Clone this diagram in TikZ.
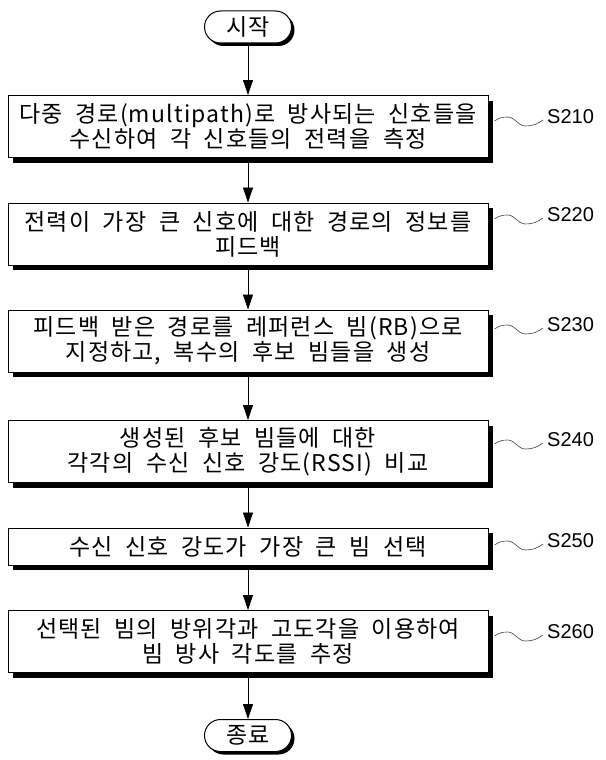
\documentclass[tikz,border=0pt]{standalone}
\usepackage{fontspec}
\setmainfont{Noto Sans CJK KR}[LetterSpace=5, WordSpace=2]
\newfontfamily\labfont{Liberation Sans}
\usetikzlibrary{arrows.meta,shadows,shapes.misc,calc}
\begin{document}
\begin{tikzpicture}[x=1pt,y=1pt,
  stepbox/.style={draw, line width=1pt, fill=white, minimum width=480pt, minimum height=62pt,
    align=center, inner sep=0pt, font=\fontsize{23}{25}\selectfont,
    general shadow={fill=black, shadow xshift=5pt, shadow yshift=-5pt}},
  term/.style={rounded rectangle, draw, line width=1pt, fill=white, minimum width=87pt,
    minimum height=32pt, inner sep=0pt, font=\fontsize{23}{25}\selectfont,
    general shadow={fill=black, shadow xshift=3pt, shadow yshift=-3pt}},
  flow/.style={line width=0.8pt, -{Triangle[width=10pt,length=15pt]}},
  lab/.style={anchor=west, font=\labfont\fontsize{20}{24}\selectfont, inner sep=0pt},
  wave/.style={line width=0.6pt, draw=black!75}
]
\useasboundingbox[fill=white] (0,0) rectangle (605,-760);

\node[term] (start) at (248,-27) {시작};
\node[stepbox] (b1) at (248,-126.5) {다중 경로(multipath)로 방사되는 신호들을\\수신하여 각 신호들의 전력을 측정};
\node[stepbox] (b2) at (248,-234) {전력이 가장 큰 신호에 대한 경로의 정보를\\피드백};
\node[stepbox] (b3) at (248,-341) {피드백 받은 경로를 레퍼런스 빔(RB)으로\\지정하고, 복수의 후보 빔들을 생성};
\node[stepbox] (b4) at (248,-451.5) {생성된 후보 빔들에 대한\\각각의 수신 신호 강도(RSSI) 비교};
\node[stepbox, minimum height=37pt] (b5) at (248,-546.5) {수신 신호 강도가 가장 큰 빔 선택};
\node[stepbox] (b6) at (248,-641.5) {선택된 빔의 방위각과 고도각을 이용하여\\빔 방사 각도를 추정};
\node[term] (end) at (248,-735.5) {종료};

\draw[flow] (start) -- (b1);
\draw[flow] (b1) -- (b2);
\draw[flow] (b2) -- (b3);
\draw[flow] (b3) -- (b4);
\draw[flow] (b4) -- (b5);
\draw[flow] (b5) -- (b6);
\draw[flow] (b6) -- (end);

\node[lab] (l1) at (547,-117) {S210};
\node[lab] (l2) at (547,-215) {S220};
\node[lab] (l3) at (547,-325) {S230};
\node[lab] (l4) at (547,-440) {S240};
\node[lab] (l5) at (547,-541) {S250};
\node[lab] (l6) at (547,-632) {S260};

\foreach \b/\l in {b1/l1,b2/l2,b3/l3,b4/l4,b5/l5,b6/l6}{
  \draw[wave] ($(\b.east |- \l.west)+(6,-4)$) to[out=35,in=180] ++(13,4)
    to[out=0,in=180] ++(18,-9) to[out=0,in=215] ($(\l.west)+(-4,-3)$);
}
\end{tikzpicture}
\end{document}
